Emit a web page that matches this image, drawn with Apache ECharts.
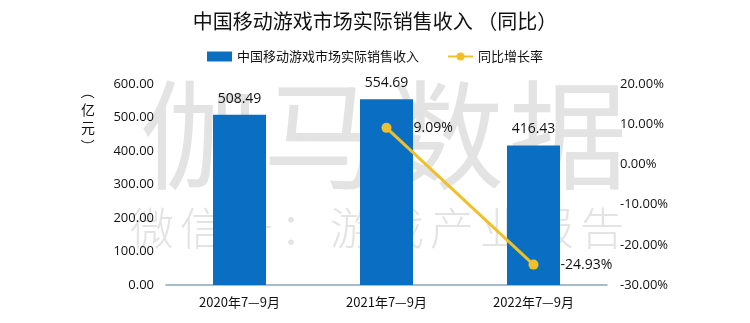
<!DOCTYPE html>
<html>
<head>
<meta charset="utf-8">
<script src="https://cdn.jsdelivr.net/npm/echarts@6/dist/echarts.min.js"></script>
<style>
  html, body { margin: 0; padding: 0; background: #fff; }
  #chart { width: 750px; height: 323px; }
</style>
</head>
<body>
<div id="chart"></div>
<script>
// Quarterly (Jul–Sep) actual sales revenue of China's mobile game market
const categories = ['2020年7—9月', '2021年7—9月', '2022年7—9月'];
const revenue = [508.49, 554.69, 416.43];          // 亿元
const yoyGrowth = [null, 9.09, -24.93];           // %
const revenueTicks = [0, 100, 200, 300, 400, 500, 600];
const growthTicks = [-30, -20, -10, 0, 10, 20];

const titleText = '中国移动游戏市场实际销售收入 （同比）';
const barName = '中国移动游戏市场实际销售收入';
const lineName = '同比增长率';
const unitChars = ['（', '亿', '元', '）'];
const markText = '伽马数据';
const markSubText = '微信号：游戏产业报告';

const cjk = '"Noto Sans CJK SC", "Noto Sans", sans-serif';
const num = '"Open Sans", "Noto Sans", sans-serif';
const BLUE = '#0a6fc2';
const GOLD = '#f0c02a';
const MARK = '#e3e3e3';

// Background brand mark, one glyph per element so the wide letter spacing holds
function spacedText(str, x0, pitch, top, size, weight) {
  return str.split('').map((ch, i) => ({
    type: 'text', x: x0 + i * pitch, y: top, z: -10, silent: true,
    style: { text: ch, font: `${weight} ${size}px "Noto Sans CJK SC"`, fill: MARK, textVerticalAlign: 'top' }
  }));
}

// Vertical unit caption beside the left axis; brackets turned to lie flat
const unitGraphics = unitChars.map((ch, i) => ({
  type: 'text', x: 88, y: 92 + i * 18, silent: true,
  rotation: (i === 0 || i === unitChars.length - 1) ? -Math.PI / 2 : 0,
  style: { text: ch, font: '14px "Noto Sans CJK SC"', fill: '#111', textAlign: 'center', textVerticalAlign: 'middle' }
}));

const chart = echarts.init(document.getElementById('chart'));
chart.setOption({
  backgroundColor: '#ffffff',
  animation: false,
  title: {
    text: titleText,
    left: 'center',
    top: 6,
    textStyle: { fontFamily: cjk, fontSize: 20, fontWeight: 'normal', color: '#111' }
  },
  legend: {
    top: 45,
    left: 'center',
    itemGap: 28,
    itemWidth: 25,
    itemHeight: 10,
    textStyle: { fontFamily: cjk, fontSize: 13, color: '#111' },
    data: [
      { name: barName, icon: 'rect' },
      { name: lineName }
    ]
  },
  graphic: [
    ...spacedText(markText, 140, 123, 76, 118, 'normal'),
    ...spacedText(markSubText, 130, 50, 206, 44, 300),
    ...unitGraphics
  ],
  grid: { left: 166, right: 143, top: 84, bottom: 38 },
  xAxis: {
    type: 'category',
    data: categories,
    axisTick: { show: false },
    axisLine: { lineStyle: { color: '#8aa6bb', width: 1.5 } },
    axisLabel: { fontFamily: cjk, fontSize: 13, color: '#111', margin: 11 }
  },
  yAxis: [
    {
      type: 'value',
      min: revenueTicks[0],
      max: revenueTicks[revenueTicks.length - 1],
      interval: 100,
      splitLine: { show: false },
      axisLine: { show: false },
      axisTick: { show: false },
      axisLabel: {
        fontFamily: num, fontSize: 13, color: '#111', margin: 12,
        formatter: v => v.toFixed(2)
      }
    },
    {
      type: 'value',
      min: growthTicks[0],
      max: growthTicks[growthTicks.length - 1],
      interval: 10,
      splitLine: { show: false },
      axisLine: { show: false },
      axisTick: { show: false },
      axisLabel: {
        fontFamily: num, fontSize: 13, color: '#111', margin: 13,
        formatter: v => v.toFixed(2) + '%'
      }
    }
  ],
  series: [
    {
      name: barName,
      type: 'bar',
      data: revenue,
      barWidth: 53,
      itemStyle: { color: BLUE },
      label: {
        show: true, position: 'top', distance: 9,
        fontFamily: num, fontSize: 14, color: '#111',
        formatter: p => p.value.toFixed(2)
      }
    },
    {
      name: lineName,
      type: 'line',
      yAxisIndex: 1,
      data: yoyGrowth,
      symbol: 'circle',
      symbolSize: 10,
      lineStyle: { color: GOLD, width: 3 },
      itemStyle: { color: GOLD },
      label: {
        show: true, position: 'right', distance: 22,
        fontFamily: num, fontSize: 14, color: '#111',
        formatter: p => p.value.toFixed(2) + '%'
      }
    }
  ]
});
</script>
</body>
</html>
